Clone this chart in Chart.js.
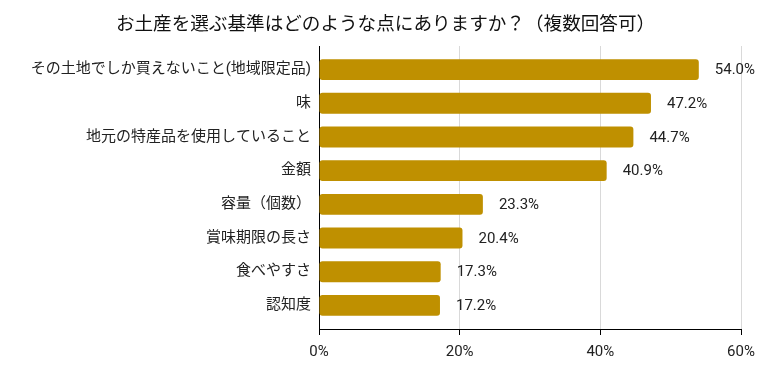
<!DOCTYPE html>
<html>
<head>
<meta charset="utf-8">
<script src="https://cdn.jsdelivr.net/npm/chart.js@4/dist/chart.umd.min.js"></script>
<style>
html,body{margin:0;padding:0;background:#fff;}
#wrap{width:761px;height:371px;position:relative;}
</style>
</head>
<body>
<div id="wrap"><canvas id="c" width="761" height="371"></canvas></div>
<script>
const titleText = 'お土産を選ぶ基準はどのような点にありますか？（複数回答可）';
const categories = [
  'その土地でしか買えないこと(地域限定品)',
  '味',
  '地元の特産品を使用していること',
  '金額',
  '容量（個数）',
  '賞味期限の長さ',
  '食べやすさ',
  '認知度'
];
const values = [54.0, 47.2, 44.7, 40.9, 23.3, 20.4, 17.3, 17.2];
const xTicks = [0, 20, 40, 60];

const FONT = "Roboto, 'Noto Sans CJK JP', sans-serif";
const TEXT = '#222222';

const valueLabels = {
  id: 'valueLabels',
  afterDatasetsDraw(chart) {
    const ctx = chart.ctx;
    const meta = chart.getDatasetMeta(0);
    ctx.save();
    ctx.font = "15px " + FONT;
    ctx.fillStyle = TEXT;
    ctx.textAlign = 'left';
    ctx.textBaseline = 'middle';
    meta.data.forEach((el, i) => {
      ctx.fillText(values[i].toFixed(1) + '%', el.x + 16, el.y + 1);
    });
    ctx.restore();
  }
};

const titleDraw = {
  id: 'titleDraw',
  afterDraw(chart) {
    const ctx = chart.ctx;
    ctx.save();
    ctx.font = "18.6px 'Noto Sans CJK JP', sans-serif";
    ctx.fillStyle = '#111111';
    ctx.textAlign = 'center';
    ctx.textBaseline = 'middle';
    ctx.fillText(titleText, chart.width / 2 + 5, 23);
    ctx.restore();
  }
};

new Chart(document.getElementById('c'), {
  type: 'bar',
  data: {
    datasets: [{
      data: values.map((v, i) => ({x: v, y: i})),
      backgroundColor: '#BF9000',
      borderRadius: 3,
      borderSkipped: false,
      barPercentage: 0.62,
      categoryPercentage: 1.0
    }]
  },
  options: {
    indexAxis: 'y',
    responsive: false,
    animation: false,
    layout: {padding: {left: 0, right: 20, top: 46, bottom: 0}},
    plugins: {
      legend: {display: false},
      tooltip: {enabled: false},
      title: {display: false}
    },
    scales: {
      x: {
        type: 'linear',
        position: 'bottom',
        min: 0,
        max: 60,
        afterBuildTicks(scale) {
          scale.ticks = xTicks.map(v => ({value: v}));
        },
        afterFit(scale) {
          scale.height = 42;
          scale.paddingLeft = 0;
          scale.paddingRight = 0;
        },
        ticks: {
          callback: v => v + '%',
          color: TEXT,
          font: {family: FONT, size: 15},
          padding: 8,
          maxRotation: 0
        },
        grid: {
          color: ctx => ctx.tick && ctx.tick.value === 0 ? '#000000' : '#d9d9d9',
          tickColor: '#000000',
          tickLength: 6,
          lineWidth: 1
        },
        border: {display: true, color: '#000000', width: 1}
      },
      y: {
        type: 'linear',
        reverse: true,
        offset: false,
        min: -0.7,
        max: 7.7,
        afterBuildTicks(scale) {
          scale.ticks = categories.map((c, i) => ({value: i}));
        },
        afterFit(scale) { scale.width = 319; },
        ticks: {
          callback: v => categories[v],
          color: TEXT,
          font: {family: FONT, size: 15},
          padding: 8,
          autoSkip: false
        },
        grid: {display: false, drawTicks: false, offset: false},
        border: {display: true, color: '#000000', width: 1}
      }
    }
  },
  plugins: [valueLabels, titleDraw]
});
</script>
</body>
</html>
